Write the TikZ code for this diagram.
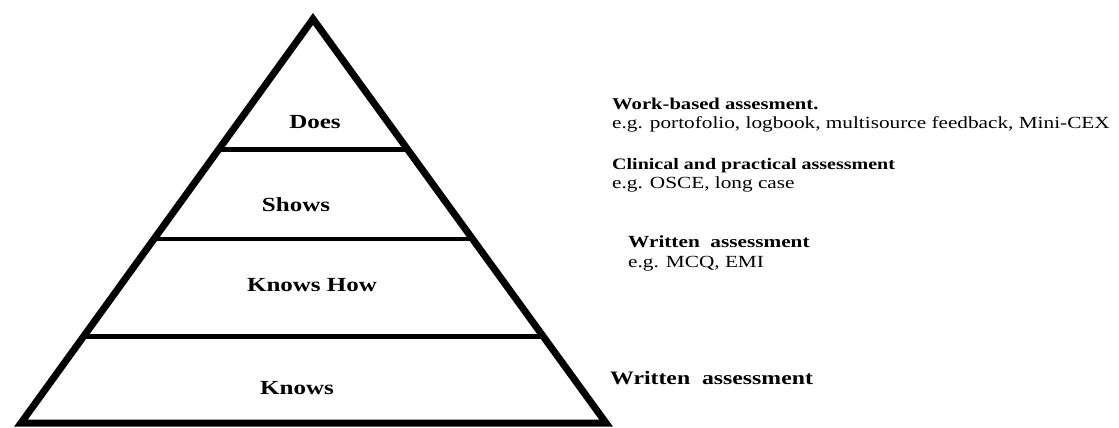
\documentclass[tikz,border=0pt]{standalone}
\usepackage{fontspec}
\setmainfont[FakeStretch=1.25]{Liberation Serif}
\usetikzlibrary{calc}
\begin{document}
\begin{tikzpicture}[x=1pt,y=-1pt,line join=miter,
        level/.style={font=\fontsize{20}{22}\selectfont\bfseries},
        head/.style={anchor=base west,inner sep=0pt,font=\fontsize{16.5}{18}\selectfont\bfseries},
        note/.style={anchor=base west,inner sep=0pt,font=\fontsize{17}{19}\selectfont}]
    \useasboundingbox (0,0) rectangle (1119,428);
    % pyramid
    \coordinate (top) at (313,19);
    \coordinate (bl) at (21,423);
    \coordinate (br) at (606,423);
    \draw[line width=7pt] (top)--(br)--(bl)--cycle;
    \foreach \t/\n in {0.323/does,0.544/shows,0.786/how}
        \draw[line width=4.5pt] ($(top)!\t!(bl)$) coordinate (\n-l) -- ($(top)!\t!(br)$) coordinate (\n-r);
    \node[level] (does) at (315,122) {Does};
    \node[level] (shows) at (296,205) {Shows};
    \node[level] (knowshow) at (312,285) {Knows How};
    \node[level] (knows) at (297,388) {Knows};
    % assessments
    \node[head] (wb-head) at (612,109) {Work-based assesment.};
    \node[note] (wb-note) at (612,128) {e.g. portofolio, logbook, multisource feedback, Mini-CEX};
    \node[head,font=\fontsize{16}{18}\selectfont\bfseries] (cl-head) at (612,169) {Clinical and practical assessment};
    \node[note] (cl-note) at (612,188) {e.g. OSCE, long case};
    \node[head,font=\fontsize{17}{19}\selectfont\bfseries] (wr-head) at (628,247) {Written\ \ assessment};
    \node[note] (wr-note) at (628,267) {e.g. MCQ, EMI};
    \node[head,font=\fontsize{19}{21}\selectfont\bfseries] (wr2-head) at (610,384) {Written\ \ assessment};
\end{tikzpicture}
\end{document}
